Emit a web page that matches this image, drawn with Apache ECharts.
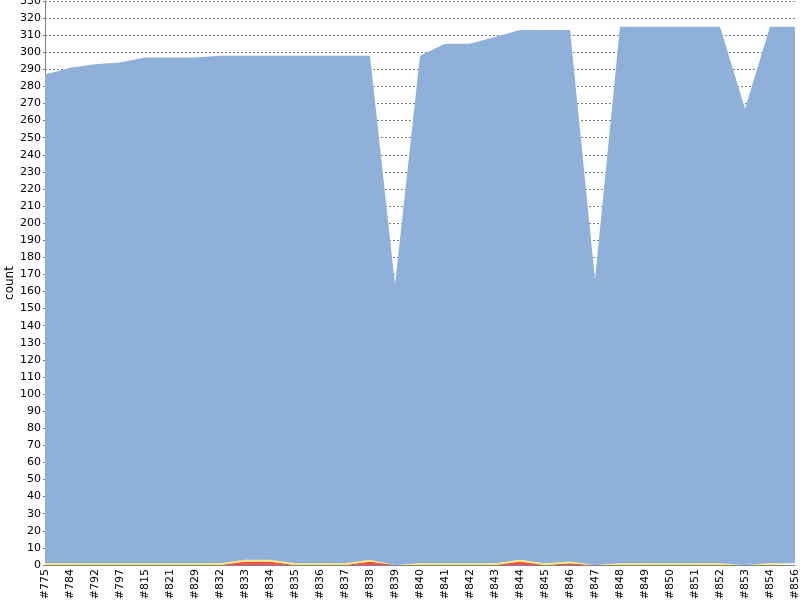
<!DOCTYPE html>
<html>
<head>
<meta charset="utf-8">
<script src="https://cdn.jsdelivr.net/npm/echarts@6/dist/echarts.min.js"></script>
<style>
  html, body { margin: 0; padding: 0; background: #fff; }
  #chart { width: 800px; height: 600px; }
</style>
</head>
<body>
<div id="chart"></div>
<script>
// build numbers on the x axis
const builds = ['#775','#784','#792','#797','#815','#821','#829','#832','#833','#834','#835','#836','#837','#838','#839','#840','#841','#842','#843','#844','#845','#846','#847','#848','#849','#850','#851','#852','#853','#854','#856'];

// test counts per build (stacked: failed, skipped, passed)
const failed  = [0,0,0,0,0,0,0,0,2,2,0,0,0,2,0,0,0,0,0,2,0,1,0,0,0,0,0,0,0,0,0];
const skipped = [1,1,1,1,1,1,1,1,1,1,1,1,1,1,0,1,1,1,1,1,1,1,0,1,1,1,1,1,0,1,1];
const passed  = [286,290,292,293,296,296,296,297,295,295,297,297,297,295,164,297,304,304,308,310,312,311,167,314,314,314,314,314,267,314,314];

const font = 'DejaVu Sans';

function areaSeries(name, data, color) {
  return {
    name: name,
    type: 'line',
    stack: 'total',
    data: data,
    symbol: 'none',
    lineStyle: { width: 0 },
    areaStyle: { color: color, opacity: 1 },
    itemStyle: { color: color },
    animation: false
  };
}

const chart = echarts.init(document.getElementById('chart'));
chart.setOption({
  backgroundColor: '#fff',
  animation: false,
  grid: { left: 45, right: 5, top: 1, bottom: 35, containLabel: false, outerBoundsMode: 'none' },
  // y axis title, placed by hand
  graphic: [{
    type: 'text',
    x: 10,
    y: 283,
    rotation: Math.PI / 2,
    style: {
      text: 'count',
      fill: '#000',
      font: '12px "DejaVu Sans"',
      align: 'center',
      verticalAlign: 'middle'
    }
  }],
  xAxis: {
    type: 'category',
    data: builds,
    boundaryGap: false,
    axisLine: { lineStyle: { color: '#808080', width: 1 } },
    axisTick: { show: false },
    axisLabel: {
      rotate: 90,
      interval: 0,
      margin: 4,
      color: '#000',
      fontFamily: font,
      fontSize: 11
    },
    splitLine: { show: false }
  },
  yAxis: {
    type: 'value',
    min: 0,
    max: 330,
    interval: 10,
    axisLine: { show: true, lineStyle: { color: '#808080', width: 1 } },
    axisTick: { show: true, length: 2, lineStyle: { color: '#808080' } },
    axisLabel: { color: '#000', fontFamily: font, fontSize: 11, margin: 4 },
    splitLine: { show: true, lineStyle: { color: '#808080', type: [2, 2], width: 1 } }
  },
  series: [
    areaSeries('failed', failed, '#f25454'),
    areaSeries('skipped', skipped, '#fded72'),
    areaSeries('passed', passed, '#8fb0d9')
  ]
});
</script>
</body>
</html>
